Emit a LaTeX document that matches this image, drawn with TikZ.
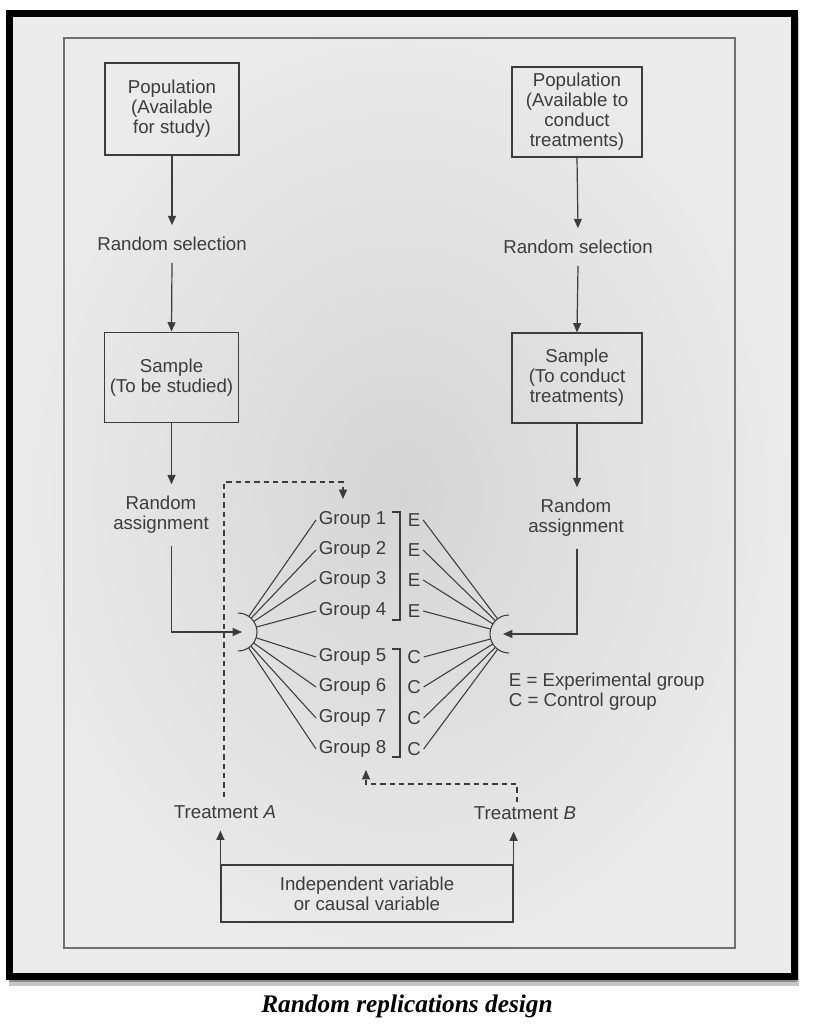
\documentclass[tikz,border=0pt]{standalone}
\usepackage{fontspec}
\setmainfont{Liberation Sans}
\newfontfamily\capfont{Liberation Serif}
\usetikzlibrary{arrows.meta,calc}
\definecolor{ink}{HTML}{3C3C3C}
\definecolor{paperA}{HTML}{D5D5D5}
\definecolor{paperB}{HTML}{EBEBEB}
\definecolor{rimline}{HTML}{707070}
\begin{document}
\begin{tikzpicture}[x=0.75pt,y=0.75pt,
  font=\fontsize{14}{15}\selectfont, text=ink,
  box/.style={draw=ink, line width=0.9pt, align=center, inner sep=2pt},
  lbl/.style={align=center, inner sep=3pt, outer sep=6pt},
  grp/.style={anchor=west, inner sep=2pt},
  arr/.style={-{Triangle[length=7pt,width=6pt]}, draw=ink, line width=0.9pt},
  ln/.style={draw=ink, line width=0.8pt},
  dsh/.style={draw=ink, line width=0.8pt, dash pattern=on 4pt off 3pt}]
\useasboundingbox (0,0) rectangle (815,-1033);
\fill[white] (0,0) rectangle (815,-1033);
% shadow and frame
\fill[black!22] (9,-17) rectangle (799,-986);
\fill[black!45] (9,-15) rectangle (797,-982);
\shade[inner color=paperA, outer color=paperB] (9,-13) rectangle (794,-976);
\draw[black, line width=5.25pt] (9,-13) rectangle (794,-976);
\draw[rimline, line width=0.8pt] (64,-38) rectangle (735,-948);
% left column
\node[box, minimum width=100.5pt, minimum height=69pt] (pop1) at (172,-109) {Population\\(Available\\for study)};
\node[lbl] (rs1) at (172,-244) {Random selection};
\node[box, minimum width=100pt, minimum height=68pt] (samp1) at (171.5,-377.5) {Sample\\(To be studied)};
\node[lbl] (ra1) at (161,-515) {Random\\assignment};
% right column
\node[box, minimum width=97.5pt, minimum height=67.5pt] (pop2) at (577,-112) {Population\\(Available to\\conduct\\treatments)};
\node[lbl] (rs2) at (578,-247) {Random selection};
\node[box, minimum width=97.5pt, minimum height=67.5pt] (samp2) at (577,-378) {Sample\\(To conduct\\treatments)};
\node[lbl] (ra2) at (576,-518) {Random\\assignment};
% hubs
\coordinate (Lc) at (238,-632);
\coordinate (Rc) at (509,-634);
\draw[ln] (238,-613) arc[start angle=90, end angle=-90, radius=19];
\draw[ln] (509,-615) arc[start angle=90, end angle=270, radius=19];
% groups
\foreach \i/\y/\l in {1/520/E,2/550/E,3/580/E,4/611/E,5/657/C,6/687/C,7/718/C,8/749/C}{
  \node[grp] (g\i) at (316,-\y) {Group \i};
  \node[inner sep=2pt] (l\i) at (414,-\y) {\l};
  \draw[ln] ($(Lc)!14.25pt!(g\i.west)$) -- (g\i.west);
  \draw[ln] (l\i.east) -- ($(Rc)!14.25pt!(l\i.east)$);
}
% brackets
\draw[ln] (392,-512) -- (400,-512) -- (400,-620) -- (392,-620);
\draw[ln] (392,-649) -- (400,-649) -- (400,-757) -- (392,-757);
% legend
\node[anchor=west, align=left, inner sep=2pt] (leg) at (506,-692) {E = Experimental group\\C = Control group};
% left flow
\draw[arr] (pop1.south) -- (rs1.north);
\draw[arr] (rs1.south) -- (samp1.north);
\draw[arr] (samp1.south) -- (samp1.south |- ra1.north);
\draw[arr] (samp1.south |- ra1.south) |- ([xshift=3pt]Lc);
% right flow
\draw[arr] (pop2.south) -- (rs2.north);
\draw[arr] (rs2.south) -- (samp2.north);
\draw[arr] (samp2.south) -- (samp2.south |- ra2.north);
\draw[arr] (samp2.south |- ra2.south) |- ([xshift=-4.5pt]Rc);
% treatments
\node[lbl] (ta) at (225,-812) {Treatment \textit{A}};
\node[lbl] (tb) at (525,-813) {Treatment \textit{B}};
\node[box, minimum width=219pt, minimum height=42.75pt] (iv) at (367,-893.5) {Independent variable\\or causal variable};
\draw[arr] (iv.north west) -- (iv.north west |- ta.south);
\draw[arr] (iv.north east) -- (iv.north east |- tb.south);
% dashed feedback
\coordinate (dA) at (343,-499);
\coordinate (dB) at (366,-770);
\draw[dsh, -{Triangle[length=7pt,width=6pt]}] (224,-797) -- (224,-482) -| (dA);
\draw[dsh, -{Triangle[length=7pt,width=6pt]}] (517,-802) -- (517,-784) -| (dB);
% caption
\node[text=black] (cap) at (407,-1006) {\capfont\bfseries\itshape\fontsize{19}{22}\selectfont Random replications design};
\end{tikzpicture}
\end{document}
